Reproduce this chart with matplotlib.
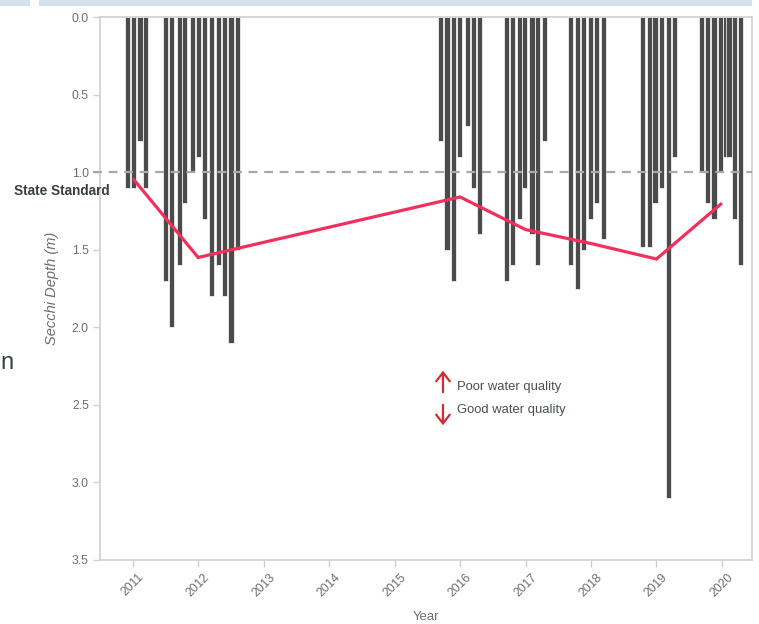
import matplotlib
matplotlib.use("Agg")
import matplotlib.pyplot as plt
from matplotlib.patches import Rectangle, FancyArrowPatch

FONT = ["Liberation Sans", "DejaVu Sans"]
plt.rcParams["font.family"] = FONT

# Individual Secchi readings: sample date (decimal year) and depth (m)
sample_dates = [
    2010.92, 2011.01, 2011.11, 2011.20,
    2011.50, 2011.59, 2011.71, 2011.79, 2011.91, 2012.00,
    2012.10, 2012.20, 2012.31, 2012.40, 2012.50, 2012.60,
    2015.70, 2015.80, 2015.90, 2015.99, 2016.11, 2016.21, 2016.30,
    2016.71, 2016.80, 2016.91, 2016.99, 2017.10, 2017.18, 2017.29,
    2017.69, 2017.79, 2017.89, 2017.99, 2018.08, 2018.19,
    2018.79, 2018.89, 2018.98, 2019.08, 2019.19, 2019.28,
    2019.69, 2019.78, 2019.88, 2019.98, 2020.05, 2020.11, 2020.19, 2020.28,
]
sample_depths = [
    1.10, 1.10, 0.80, 1.10,
    1.70, 2.00, 1.60, 1.20, 1.00, 0.90,
    1.30, 1.80, 1.60, 1.80, 2.10, 1.50,
    0.80, 1.50, 1.70, 0.90, 0.70, 1.10, 1.40,
    1.70, 1.60, 1.30, 1.10, 1.40, 1.60, 0.80,
    1.60, 1.75, 1.50, 1.30, 1.20, 1.43,
    1.48, 1.48, 1.20, 1.10, 3.10, 0.90,
    1.00, 1.20, 1.30, 1.00, 0.90, 0.90, 1.30, 1.60,
]

# Annual mean Secchi depth
mean_years = [2011, 2012, 2016, 2017, 2018, 2019, 2020]
mean_depths = [1.04, 1.55, 1.16, 1.37, 1.46, 1.56, 1.20]

state_standard = 1.0
year_ticks = list(range(2011, 2021))
depth_ticks = [0.0, 0.5, 1.0, 1.5, 2.0, 2.5, 3.0, 3.5]

W, H = 759, 624
fig = plt.figure(figsize=(W / 100, H / 100), dpi=100)
fig.patch.set_facecolor("white")

# Pale banner strips along the top edge
fig.patches.append(Rectangle((0, 1 - 6 / H), 30 / W, 6 / H, transform=fig.transFigure,
                             facecolor="#d3e2ea", edgecolor="none"))
fig.patches.append(Rectangle((39 / W, 1 - 6 / H), (752 - 39) / W, 6 / H, transform=fig.transFigure,
                             facecolor="#d3e2ea", edgecolor="none"))

ax = fig.add_axes([100 / W, 1 - 560 / H, 652 / W, 543 / H])

ax.bar(sample_dates, sample_depths, width=0.08, bottom=0, color="#4b4b4b",
       edgecolor="white", linewidth=0.5, zorder=2)
ax.axhline(state_standard, xmin=-0.01, color="#a9a9a9", linestyle=(0, (4, 3)),
           linewidth=1.6, zorder=3, clip_on=False)
ax.plot(mean_years, mean_depths, color="#f2305c", linewidth=2.3, zorder=4,
        solid_capstyle="butt", solid_joinstyle="miter")

ax.set_xlim(2010.5, 2020.46)
ax.set_ylim(3.5, 0.0)
ax.set_xticks(year_ticks)
ax.set_xticklabels([str(y) for y in year_ticks], rotation=45, ha="center")
ax.set_yticks(depth_ticks)
ax.set_yticklabels([f"{v:.1f}" for v in depth_ticks])

for s in ax.spines.values():
    s.set_color("#cfcfcf")
    s.set_linewidth(1.2)
ax.tick_params(axis="both", colors="#cfcfcf", length=5, width=1.0,
               labelcolor="#6e6e6e", labelsize=8.8, pad=3)

ax.set_xlabel("Year", fontsize=9.5, color="#6e6e6e", labelpad=9)
ax.set_ylabel("Secchi Depth (m)", fontsize=10.5, color="#6e6e6e",
              style="italic", labelpad=9)

fig.text(14 / W, 1 - 191 / H, "State Standard", fontsize=9.8,
         fontweight="bold", color="#3b4046", va="center", ha="left")

fig.text(457 / W, 1 - 387 / H, "Poor water quality", fontsize=9.4,
         color="#4a4f55", va="center", ha="left")
fig.text(457 / W, 1 - 410 / H, "Good water quality", fontsize=9.4,
         color="#4a4f55", va="center", ha="left")

arrow_kw = dict(transform=fig.transFigure, arrowstyle="->,head_length=0.45,head_width=0.35",
                color="#d42a31", linewidth=1.6, mutation_scale=14)
fig.patches.append(FancyArrowPatch((443 / W, 1 - 395 / H), (443 / W, 1 - 368 / H), **arrow_kw))
fig.patches.append(FancyArrowPatch((443 / W, 1 - 402 / H), (443 / W, 1 - 428 / H), **arrow_kw))

fig.text(0.5 / W, 1 - 363 / H, "n", fontsize=17, color="#3b4046", va="center", ha="left")

fig.savefig("out.png", dpi=100, facecolor="white")
